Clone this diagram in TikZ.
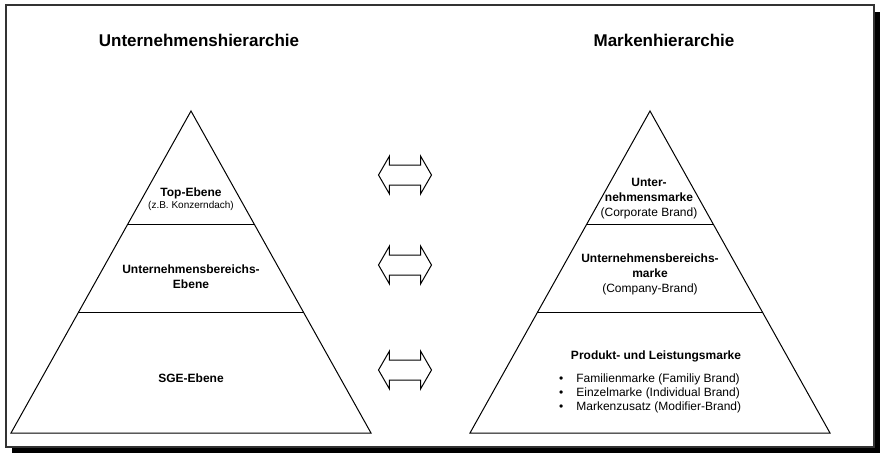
\documentclass[tikz,border=0pt]{standalone}
\usepackage{fontspec}
\setmainfont{Liberation Sans}
\usetikzlibrary{calc,shapes.arrows}

\tikzset{
  titel/.style={font=\bfseries\fontsize{17}{20}\selectfont, inner sep=0pt},
  ebene/.style={align=center, font=\bfseries\fontsize{12}{15}\selectfont, inner sep=0pt},
  zusatz/.style={align=center, font=\fontsize{10}{12}\selectfont, inner sep=0pt},
  liste/.style={align=left, font=\fontsize{12}{14}\selectfont, inner sep=0pt},
  pfeil/.style={double arrow, draw, line width=1pt, inner sep=0pt,
    minimum height=53pt, minimum width=37pt,
    double arrow head extend=9pt, double arrow tip angle=120}
}

\begin{document}
\begin{tikzpicture}[x=1pt, y=-1pt]
    \useasboundingbox (0,0) rectangle (880,453);

    % Frame with shadow
    \fill[black] (12,12) rectangle (880,453);
    \filldraw[fill=white, draw=black!80, line width=1.5pt] (6,5) rectangle (874,447);

    % Define the points
    \coordinate (LA) at (191,111);
    \coordinate (LB) at (11,433);
    \coordinate (LC) at (371,433);
    \coordinate (RA) at (650,111);
    \coordinate (RB) at (470,433);
    \coordinate (RC) at (830,433);

    % Draw the pyramids
    \draw[line width=1pt] (LA) -- (LB) -- (LC) -- cycle;
    \draw[line width=1pt] (RA) -- (RB) -- (RC) -- cycle;

    % Levels
    \draw[line width=1pt] ($(LA)!0.354!(LB)$) -- ($(LA)!0.354!(LC)$);
    \draw[line width=1pt] ($(LA)!0.627!(LB)$) -- ($(LA)!0.627!(LC)$);
    \draw[line width=1pt] ($(RA)!0.354!(RB)$) -- ($(RA)!0.354!(RC)$);
    \draw[line width=1pt] ($(RA)!0.627!(RB)$) -- ($(RA)!0.627!(RC)$);

    % Titles
    \node[titel] (ltitel) at (199,40) {Unternehmenshierarchie};
    \node[titel] (rtitel) at (664,40) {Markenhierarchie};

    % Company levels
    \node[ebene] (top) at (191,193) {Top-Ebene};
    \node[zusatz] (konzern) at (191,206) {(z.B. Konzerndach)};
    \node[ebene] (bereich) at (191,277) {Unternehmensbereichs-\\Ebene};
    \node[ebene] (sge) at (191,378) {SGE-Ebene};

    % Brand levels
    \node[ebene] (dach) at (649,199) {Unter-\\nehmensmarke\\{\mdseries(Corporate Brand)}};
    \node[ebene] (company) at (650,274) {Unternehmensbereichs-\\marke\\{\mdseries(Company-Brand)}};
    \node[ebene] (produkt) at (656,356) {Produkt- und Leistungsmarke};
    \node[liste, anchor=west] (marken) at (559,393)
      {\textbullet\hspace{13pt}Familienmarke (Familiy Brand)\\
       \textbullet\hspace{13pt}Einzelmarke (Individual Brand)\\
       \textbullet\hspace{13pt}Markenzusatz (Modifier-Brand)};

    % Arrows
    \node[pfeil] (pfeil1) at (405,175) {\rule{0pt}{19pt}};
    \node[pfeil] (pfeil2) at (405,265) {\rule{0pt}{19pt}};
    \node[pfeil] (pfeil3) at (405,370) {\rule{0pt}{19pt}};

\end{tikzpicture}
\end{document}
